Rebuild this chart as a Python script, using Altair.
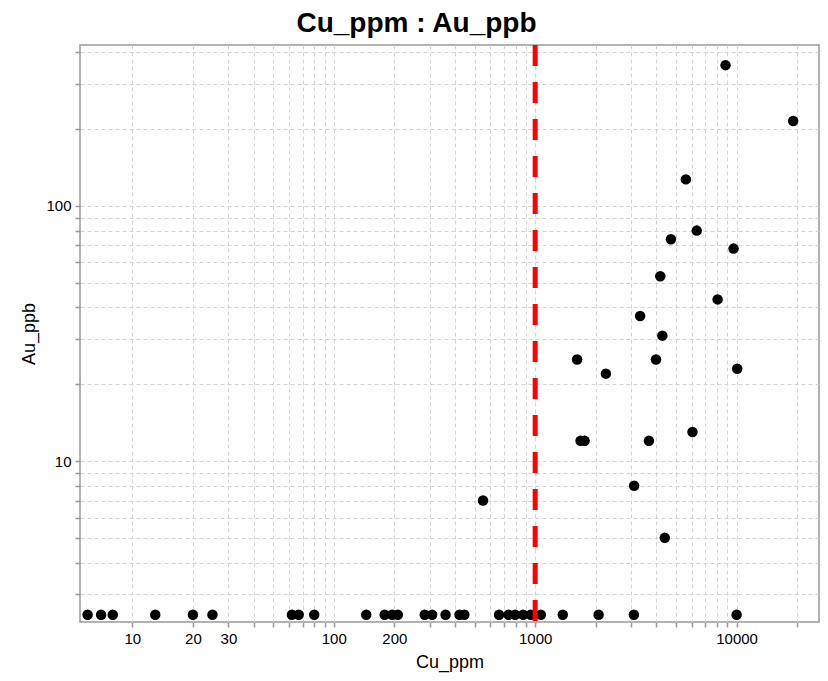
import altair as alt
import pandas as pd

# Points above detection limit (Cu_ppm, Au_ppb)
cu_hi = [8810, 19100, 5600, 6340, 4720, 9660, 4180, 8050, 3320, 4280, 1615,
         3980, 2244, 10070, 1680, 1760, 3670, 6040, 3100, 4400, 551]
au_hi = [356, 215, 127, 80, 74, 68, 53, 43, 37, 31, 25,
         25, 22, 23, 12, 12, 12, 13, 8, 5, 7]

# Points at half detection limit (Au = 2.5 ppb)
cu_lo = [6, 7, 8, 13, 20, 25, 62, 67, 80, 145, 179, 195, 208, 283, 308, 359,
         421, 445, 662, 738, 795, 871, 951, 1067, 1371, 2065, 3091, 10000]
au_lo_value = 2.5

threshold = [1000]

x_ticks = [10, 20, 30, 40, 50, 60, 70, 80, 90,
           100, 200, 300, 400, 500, 600, 700, 800, 900,
           1000, 2000, 3000, 4000, 5000, 6000, 7000, 8000, 9000,
           10000, 20000]
x_labels = [10, 20, 30, 100, 200, 1000, 10000]
y_ticks = [3, 4, 5, 6, 7, 8, 9, 10, 20, 30, 40, 50, 60, 70, 80, 90,
           100, 200, 300, 400]
y_labels = [10, 100]

x_domain = [5.5, 25650]
y_domain = [2.34, 427]

df = pd.DataFrame({
    "Cu_ppm": cu_hi + cu_lo,
    "Au_ppb": au_hi + [au_lo_value] * len(cu_lo),
})
df_thr = pd.DataFrame({"Cu_ppm": threshold})

FONT = "Liberation Sans"

x_enc = alt.X(
    "Cu_ppm:Q",
    scale=alt.Scale(type="log", domain=x_domain, nice=False),
    axis=alt.Axis(
        values=x_ticks,
        labelExpr="indexof(%s, datum.value) >= 0 ? format(datum.value, 'd') : ''" % str(x_labels),
        labelOverlap=False, labelFlush=False,
        title="Cu_ppm", titleY=40, titleBaseline="middle",
    ),
)
y_enc = alt.Y(
    "Au_ppb:Q",
    scale=alt.Scale(type="log", domain=y_domain, nice=False),
    axis=alt.Axis(
        values=y_ticks,
        labelExpr="indexof(%s, datum.value) >= 0 ? format(datum.value, 'd') : ''" % str(y_labels),
        labelOverlap=False, labelFlush=False,
        title="Au_ppb", titleX=-51, titleBaseline="middle",
    ),
)

points = alt.Chart(df).mark_circle(size=110, color="black", opacity=1).encode(
    x=x_enc, y=y_enc
)

rule = alt.Chart(df_thr).mark_rule(
    color="#ff0000", strokeWidth=5, strokeDash=[21, 16]
).encode(x=alt.X("Cu_ppm:Q"))

chart = alt.layer(points, rule).properties(
    width=739,
    height=577,
    background="white",
    title=alt.TitleParams("Cu_ppm : Au_ppb", fontSize=28, fontWeight="bold",
                          font=FONT, color="black", anchor="middle", dx=-33,
                          offset=5),
    autosize=alt.AutoSizeParams(type="none"),
    padding={"left": 72, "top": 37, "right": 1, "bottom": 51},
).configure_view(
    stroke="#999999", strokeWidth=1.5, fill="white"
).configure_axis(
    domain=False,
    grid=True,
    gridColor="#d3d3d3",
    gridDash=[4, 3],
    gridWidth=1,
    ticks=True,
    tickColor="#999999",
    tickSize=5,
    tickWidth=1.5,
    labelFont=FONT,
    labelFontSize=15,
    labelColor="black",
    labelPadding=4,
    titleFont=FONT,
    titleFontSize=18,
    titleFontWeight="normal",
    titleColor="black",
)

chart.save("out.html", embed_options={"renderer": "svg", "actions": False})
